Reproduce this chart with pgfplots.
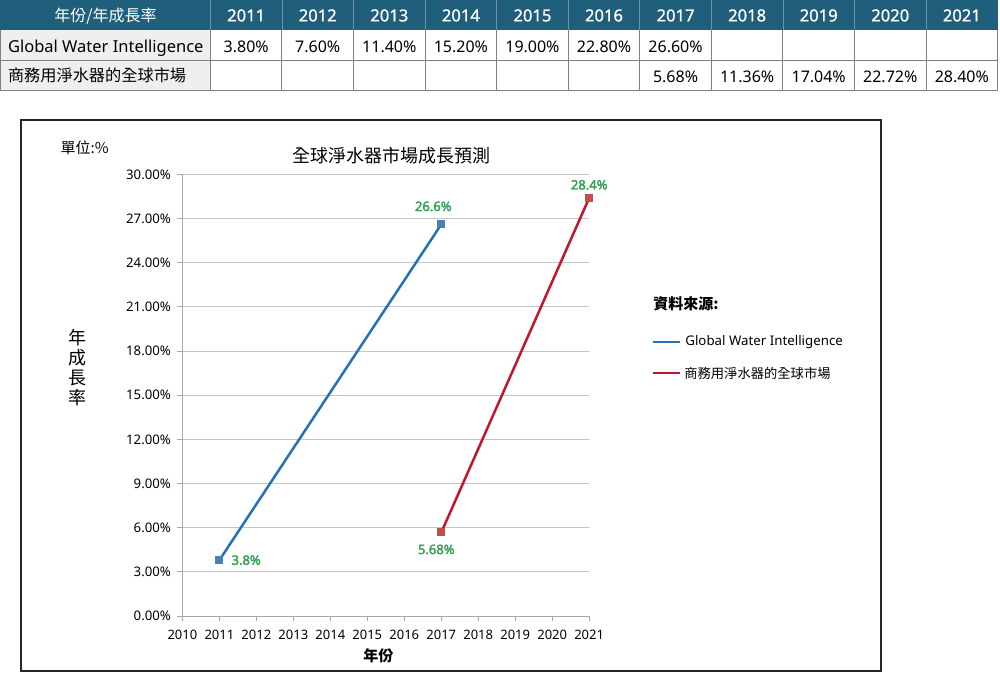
\documentclass[border=0pt]{standalone}
\usepackage{fontspec}
\setmainfont{Noto Sans}[AutoFakeBold=2.2]
\newfontfamily\cjk{Noto Sans CJK TC}
\newfontfamily\hdrfont{Noto Sans}[FakeBold=0.8]
\newfontfamily\lblfont{Noto Sans}[FakeBold=2.2]
\usepackage{pgfplots}
\pgfplotsset{compat=1.18}
\definecolor{hdr}{HTML}{1F5F7B}
\definecolor{hdrline}{HTML}{6A93A6}
\definecolor{lbl}{HTML}{33A150}
\definecolor{bline}{HTML}{2371B9}
\definecolor{bmark}{HTML}{4A7EBB}
\definecolor{rline}{HTML}{C0172D}
\definecolor{rmark}{HTML}{C0504D}
\definecolor{tgrid}{HTML}{7F7F7F}
\definecolor{firstcol}{HTML}{EFEFEF}
\begin{document}
\begin{tikzpicture}[x=1pt,y=1pt]
\fill[white] (0,0) rectangle (1000,-673);
% ---- table ----
\fill[hdr] (0,0) rectangle (998,-30);
\fill[firstcol] (0,-30) rectangle (210,-90);
\foreach \i in {1,...,10} {
  \draw[hdrline, line width=0.8pt] ({210+71.6*\i},0) -- ({210+71.6*\i},-30);
}
\draw[hdrline, line width=0.8pt] (210,0) -- (210,-30);
\foreach \i in {0,...,11} {
  \draw[tgrid, line width=1pt] ({210+71.6*\i},-30) -- ({210+71.6*\i},-90);
}
\draw[tgrid, line width=1pt] (0,-60) -- (998,-60);
\draw[tgrid, line width=1pt] (0,-90) -- (998,-90);
\draw[tgrid, line width=1pt] (0,-30) -- (0,-90);
\node[anchor=base, text=white, font=\cjk\fontsize{16}{18}\selectfont] at (105,-21) {年份/年成長率};
\foreach \y [count=\i from 0] in {2011,2012,2013,2014,2015,2016,2017,2018,2019,2020,2021} {
  \node[anchor=base, text=white, font=\hdrfont\fontsize{16.6}{18}\selectfont] at ({210+71.6*(\i+0.5)},-21) {\y};
}
\node[anchor=base west, font=\fontsize{16.5}{18}\selectfont] at (4,-52) {Global Water Intelligence};
\node[anchor=base west, font=\cjk\fontsize{16.2}{18}\selectfont] at (4,-81) {商務用淨水器的全球市場};
\foreach \v [count=\i from 0] in {3.80\%,7.60\%,11.40\%,15.20\%,19.00\%,22.80\%,26.60\%} {
  \node[anchor=base, font=\fontsize{16}{18}\selectfont] at ({210+71.6*(\i+0.5)},-52) {\v};
}
\foreach \v [count=\i from 6] in {5.68\%,11.36\%,17.04\%,22.72\%,28.40\%} {
  \node[anchor=base, font=\fontsize{16}{18}\selectfont] at ({210+71.6*(\i+0.5)},-82) {\v};
}
% ---- chart frame ----
\draw[line width=2pt, black!85] (21,-120) rectangle (881,-671);
\node[font=\cjk\fontsize{18}{20}\selectfont] at (391,-155) {全球淨水器市場成長預測};
\node[anchor=west, inner sep=0pt, font=\cjk\fontsize{15}{16}\selectfont] at (60,-147) {單位:\%};
\node[align=center, font=\cjk\fontsize{18}{20}\selectfont] at (77,-367) {年\\成\\長\\率};
\node[font=\cjk\bfseries\fontsize{15}{18}\selectfont] at (378,-656) {年份};
% legend
\node[anchor=west, inner sep=0pt, font=\cjk\bfseries\fontsize{15}{16}\selectfont] at (653,-304) {資料來源:};
\draw[bline, line width=2.5pt] (653,-342) -- (680,-342);
\node[anchor=west, inner sep=0pt, font=\fontsize{13.3}{15}\selectfont] at (685,-342) {Global Water Intelligence};
\draw[rline, line width=2.5pt] (653,-373) -- (680,-373);
\node[anchor=west, inner sep=0pt, font=\cjk\fontsize{13.3}{15}\selectfont] at (684,-373) {商務用淨水器的全球市場};
% ---- axis ----
\begin{axis}[
  at={(182pt,-616pt)}, anchor=south west,
  scale only axis, width=407pt, height=442pt,
  xmin=2010, xmax=2021, ymin=0, ymax=30,
  xtick={2010,...,2021}, ytick={0,3,...,30},
  axis lines*=left,
  axis line style={draw=gray!70, line width=1pt},
  ymajorgrids, grid style={draw=gray!45, line width=1pt},
  tick style={draw=gray!70, line width=1pt},
  tick align=outside, major tick length=5pt,
  /pgf/number format/assume math mode=true,
  x tick label style={/pgf/number format/1000 sep={}, font=\fontsize{13}{15}\selectfont, yshift=-5pt},
  yticklabel={\pgfmathprintnumber[fixed,fixed zerofill,precision=2]{\tick}\%},
  y tick label style={font=\fontsize{13.2}{15}\selectfont, xshift=-3pt},
  clip=false,
]
\addplot[bline, line width=2.5pt, mark=square*, mark size=3.5pt,
  mark options={draw=bmark, fill=bmark, line width=0pt}, mark indices={1,7}]
  coordinates {(2011,3.8) (2012,7.6) (2013,11.4) (2014,15.2) (2015,19.0) (2016,22.8) (2017,26.6)};
\addplot[rline, line width=2.5pt, mark=square*, mark size=3.5pt,
  mark options={draw=rmark, fill=rmark, line width=0pt}, mark indices={1,5}]
  coordinates {(2017,5.68) (2018,11.36) (2019,17.04) (2020,22.72) (2021,28.40)};
\node[text=lbl, font=\lblfont\fontsize{13}{15}\selectfont] at (axis cs:2017,26.6) [yshift=18pt, xshift=-8pt] {26.6\%};
\node[text=lbl, font=\lblfont\fontsize{13}{15}\selectfont] at (axis cs:2021,28.4) [yshift=13pt] {28.4\%};
\node[text=lbl, font=\lblfont\fontsize{13}{15}\selectfont, anchor=west, inner sep=0pt] at (axis cs:2011,3.8) [xshift=12pt] {3.8\%};
\node[text=lbl, font=\lblfont\fontsize{13}{15}\selectfont] at (axis cs:2017,5.68) [yshift=-17pt, xshift=-5pt] {5.68\%};
\end{axis}
\end{tikzpicture}
\end{document}
